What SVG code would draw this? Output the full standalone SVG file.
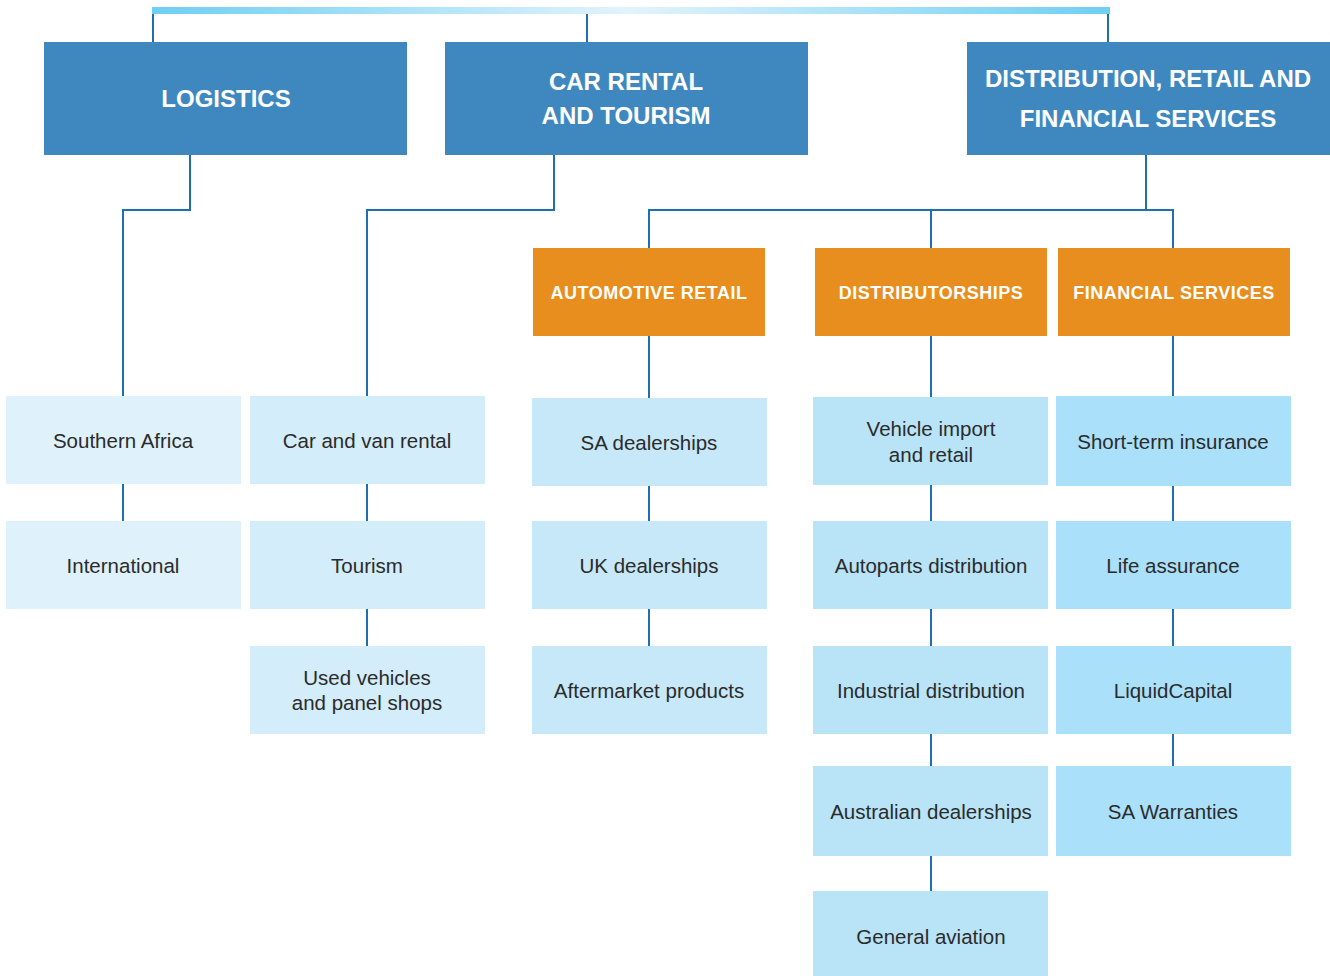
<svg xmlns="http://www.w3.org/2000/svg" width="1330" height="976" viewBox="0 0 1330 976">
<style>
.hd{fill:#3F88BF}
.or{fill:#E88E1E}
.t{font-family:"Liberation Sans",Arial,sans-serif;font-size:20.5px;fill:#2b2b2b;text-anchor:middle}
.th{font-family:"Liberation Sans",Arial,sans-serif;font-size:24px;font-weight:bold;fill:#fff;text-anchor:middle}
.to{font-family:"Liberation Sans",Arial,sans-serif;font-size:18px;font-weight:bold;fill:#fff;text-anchor:middle;letter-spacing:0.5px}
.c{fill:none;stroke:#1F6FAE;stroke-width:2}
.c1{fill:#DFF1FB}.c2{fill:#D3EDFA}.c3{fill:#C6E8F9}.c4{fill:#B9E4F8}.c5{fill:#AAE0F9}
</style>
<defs>
<linearGradient id="bar" x1="0" y1="0" x2="1" y2="0">
<stop offset="0" stop-color="#6ECFF4"/>
<stop offset="0.5" stop-color="#E2F3FC"/>
<stop offset="1" stop-color="#6ECFF4"/>
</linearGradient>
</defs>
<g id="connectors">
<rect x="152" y="7" width="958" height="7" fill="url(#bar)"/>
<path class="c" d="M153 14V42M587 14V42M1108 14V42"/>
<path class="c" d="M190 155V210H123V396M123 484V521"/>
<path class="c" d="M554 155V210H367V396M367 484V521M367 609V646"/>
<path class="c" d="M1146 155V210M649 248V210H1173V248M931 210V248"/>
<path class="c" d="M649 336V398M649 486V521M649 609V646"/>
<path class="c" d="M931 336V397M931 485V521M931 609V646M931 734V766M931 856V891"/>
<path class="c" d="M1173 336V396M1173 486V521M1173 609V646M1173 734V766"/>
</g>
<g id="logistics"><rect class="hd" x="44" y="42" width="363" height="113"/><text class="th" x="226" y="107">LOGISTICS</text></g>
<g id="car-rental"><rect class="hd" x="445" y="42" width="363" height="113"/><text class="th" x="626" y="90">CAR RENTAL</text><text class="th" x="626" y="124">AND TOURISM</text></g>
<g id="distribution"><rect class="hd" x="967" y="42" width="363" height="113"/><text class="th" x="1148" y="87">DISTRIBUTION, RETAIL AND</text><text class="th" x="1148" y="127">FINANCIAL SERVICES</text></g>
<g id="automotive-retail"><rect class="or" x="533" y="248" width="232" height="88"/><text class="to" x="649" y="299">AUTOMOTIVE RETAIL</text></g>
<g id="distributorships"><rect class="or" x="815" y="248" width="232" height="88"/><text class="to" x="931" y="299">DISTRIBUTORSHIPS</text></g>
<g id="financial-services"><rect class="or" x="1058" y="248" width="232" height="88"/><text class="to" x="1174" y="299">FINANCIAL SERVICES</text></g>
<g id="southern-africa"><rect class="c1" x="6" y="396" width="235" height="88"/><text class="t" x="123" y="448">Southern Africa</text></g>
<g id="international"><rect class="c1" x="6" y="521" width="235" height="88"/><text class="t" x="123" y="573">International</text></g>
<g id="car-van-rental"><rect class="c2" x="250" y="396" width="235" height="88"/><text class="t" x="367" y="448">Car and van rental</text></g>
<g id="tourism"><rect class="c2" x="250" y="521" width="235" height="88"/><text class="t" x="367" y="573">Tourism</text></g>
<g id="used-vehicles"><rect class="c2" x="250" y="646" width="235" height="88"/><text class="t" x="367" y="685">Used vehicles</text><text class="t" x="367" y="710">and panel shops</text></g>
<g id="sa-dealerships"><rect class="c3" x="532" y="398" width="235" height="88"/><text class="t" x="649" y="450">SA dealerships</text></g>
<g id="uk-dealerships"><rect class="c3" x="532" y="521" width="235" height="88"/><text class="t" x="649" y="573">UK dealerships</text></g>
<g id="aftermarket"><rect class="c3" x="532" y="646" width="235" height="88"/><text class="t" x="649" y="698">Aftermarket products</text></g>
<g id="vehicle-import"><rect class="c4" x="813" y="397" width="235" height="88"/><text class="t" x="931" y="436">Vehicle import</text><text class="t" x="931" y="462">and retail</text></g>
<g id="autoparts"><rect class="c4" x="813" y="521" width="235" height="88"/><text class="t" x="931" y="573">Autoparts distribution</text></g>
<g id="industrial"><rect class="c4" x="813" y="646" width="235" height="88"/><text class="t" x="931" y="698">Industrial distribution</text></g>
<g id="australian"><rect class="c4" x="813" y="766" width="235" height="90"/><text class="t" x="931" y="819">Australian dealerships</text></g>
<g id="general-aviation"><rect class="c4" x="813" y="891" width="235" height="85"/><text class="t" x="931" y="944">General aviation</text></g>
<g id="short-term"><rect class="c5" x="1056" y="396" width="235" height="90"/><text class="t" x="1173" y="449">Short-term insurance</text></g>
<g id="life-assurance"><rect class="c5" x="1056" y="521" width="235" height="88"/><text class="t" x="1173" y="573">Life assurance</text></g>
<g id="liquidcapital"><rect class="c5" x="1056" y="646" width="235" height="88"/><text class="t" x="1173" y="698">LiquidCapital</text></g>
<g id="sa-warranties"><rect class="c5" x="1056" y="766" width="235" height="90"/><text class="t" x="1173" y="819">SA Warranties</text></g>
</svg>
